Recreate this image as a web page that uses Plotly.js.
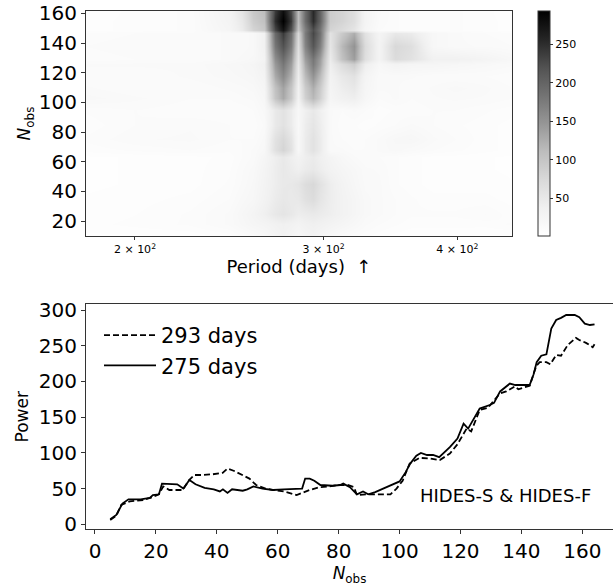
<!DOCTYPE html>
<html>
<head>
<meta charset="utf-8">
<script src="https://cdn.plot.ly/plotly-3.0.1.min.js"></script>
<style>
  html, body { margin: 0; padding: 0; background: #ffffff; overflow: hidden; }
  #chart { width: 613px; height: 588px; }
</style>
</head>
<body>
<div id="chart"></div>
<script>
// ---------- Heatmap (top panel) ----------
const periods = [180, 200, 225, 245, 252, 258, 264, 270, 275, 280, 284, 288, 293, 298, 304, 312, 320, 328, 338, 350, 362, 380, 398, 425, 450];
const nobsRows = [10, 18, 25, 35, 45, 55, 63, 68, 75, 85, 95, 103, 110, 118, 126, 129, 138, 147, 149, 155, 161];
const powerGrid = [
  [4, 4, 5, 8, 12, 15, 20, 28, 35, 28, 22, 28, 32, 26, 20, 15, 12, 10, 8, 6, 5, 5, 5, 4, 4],            // 10
  [6, 8, 10, 15, 20, 25, 28, 34, 37, 34, 30, 35, 38, 35, 30, 25, 20, 15, 12, 10, 8, 8, 8, 8, 10],       // 18
  [5, 7, 10, 15, 22, 28, 38, 50, 56, 50, 42, 45, 48, 45, 40, 32, 25, 18, 15, 12, 10, 10, 10, 12, 8],    // 25
  [5, 6, 8, 12, 18, 22, 32, 45, 51, 48, 50, 62, 69, 55, 42, 32, 25, 18, 15, 12, 10, 8, 8, 8, 6],        // 35
  [4, 5, 6, 10, 15, 20, 30, 42, 49, 50, 55, 68, 75, 60, 42, 30, 22, 16, 15, 10, 8, 6, 6, 6, 5],         // 45
  [4, 5, 6, 9, 14, 18, 28, 42, 50, 44, 38, 45, 50, 42, 32, 25, 20, 15, 14, 10, 8, 6, 6, 5, 4],          // 55
  [4, 5, 6, 8, 12, 15, 25, 40, 49, 40, 32, 40, 46, 38, 28, 20, 15, 12, 12, 10, 8, 6, 6, 5, 4],          // 63
  [8, 10, 12, 10, 12, 15, 20, 62, 80, 60, 20, 45, 60, 45, 15, 15, 12, 12, 15, 18, 15, 12, 10, 8, 6],    // 68
  [10, 14, 15, 12, 12, 12, 18, 60, 75, 56, 20, 45, 60, 45, 15, 12, 10, 12, 15, 20, 22, 15, 12, 8, 6],   // 75
  [8, 12, 14, 12, 10, 10, 15, 48, 60, 45, 18, 42, 55, 42, 15, 10, 10, 8, 10, 12, 15, 12, 10, 8, 6],     // 85
  [10, 12, 10, 10, 10, 12, 18, 48, 60, 45, 20, 38, 50, 38, 15, 12, 15, 12, 8, 10, 10, 12, 12, 10, 8],   // 95
  [18, 15, 12, 12, 14, 15, 22, 100, 130, 95, 32, 85, 115, 85, 25, 35, 40, 22, 12, 15, 12, 14, 15, 14, 12],     // 103
  [15, 12, 12, 15, 16, 18, 25, 105, 135, 100, 35, 92, 125, 92, 28, 42, 50, 25, 15, 15, 12, 15, 18, 15, 12],    // 110
  [12, 12, 15, 18, 20, 22, 30, 128, 160, 122, 42, 112, 150, 112, 32, 50, 60, 28, 15, 15, 15, 12, 12, 12, 10],  // 118
  [15, 15, 15, 20, 22, 25, 35, 145, 180, 140, 50, 130, 175, 135, 40, 70, 90, 40, 20, 30, 25, 25, 22, 18, 15],  // 126
  [10, 12, 12, 15, 18, 20, 30, 155, 190, 150, 55, 140, 180, 140, 45, 105, 140, 65, 30, 70, 60, 35, 35, 28, 20], // 129
  [12, 14, 12, 15, 15, 18, 35, 180, 220, 175, 65, 165, 215, 170, 55, 115, 150, 70, 30, 75, 65, 20, 15, 14, 12], // 138
  [10, 12, 12, 15, 15, 18, 35, 195, 240, 190, 75, 175, 230, 185, 60, 95, 125, 60, 28, 50, 45, 20, 15, 12, 10],  // 147
  [6, 8, 10, 25, 45, 80, 95, 230, 274, 220, 100, 170, 224, 180, 80, 70, 55, 25, 12, 10, 8, 8, 10, 8, 6],        // 149
  [6, 8, 10, 28, 50, 90, 105, 250, 293, 240, 110, 190, 251, 200, 90, 80, 65, 28, 14, 10, 8, 8, 10, 8, 6],       // 155
  [5, 8, 10, 30, 55, 95, 110, 240, 281, 230, 110, 190, 254, 200, 90, 80, 65, 28, 15, 10, 8, 8, 10, 8, 5]        // 161
];
const periodTickVals = [200, 300, 400];
const periodTickText = ['2 × 10<sup>2</sup>', '3 × 10<sup>2</sup>', '4 × 10<sup>2</sup>'];
const colorbarTicks = [50, 100, 150, 200, 250];

// ---------- Lines (bottom panel) ----------
const nobs293 = [5, 7, 8.6, 11.4, 15.8, 18.9, 21, 22.4, 24.4, 28.8, 30.9, 32.6, 35, 38.6, 41.9, 43.5, 45.5, 47.5, 50.7, 52.9,
  56, 58.5, 62, 66.2, 68, 70.5, 73.8, 77, 80, 83, 85, 86, 89, 93, 97, 99, 101, 103.3, 106.6, 110,
  113.2, 116.5, 119, 122, 123.5, 126.3, 129, 132.9, 135, 137.8, 139, 142.7, 144.9, 146, 148.2, 149.5, 151.4, 153, 155.2, 157.9,
  159, 161.2, 163.4, 164];
const power293 = [6, 12, 27, 32, 34, 38, 42, 53, 48, 48, 62, 69, 69, 70, 72, 78, 75, 71, 64, 55,
  50, 48, 46, 41, 44, 48, 52, 53, 55, 55, 52, 41, 42, 42, 42, 50, 61, 85, 93, 92,
  90, 99, 112, 134, 130, 160, 163, 183, 186, 193, 189, 194, 222, 227, 227, 224, 237, 236, 251, 261,
  258, 254, 248, 252];
const nobs275 = [5, 7, 9, 11, 15, 18, 19, 21, 22, 25, 27, 29, 31, 33, 36, 39, 41, 42, 43.5, 45,
  48.5, 50, 52, 55, 58.5, 62, 66.7, 68, 69, 70.5, 72, 74, 78, 80.5, 81.5, 83.7, 86, 88, 89.7, 92,
  94.6, 97, 99, 100, 102, 103.5, 105.5, 107, 109, 111, 113, 116.5, 119, 121, 122.5, 124, 126.3, 129.6, 131, 133,
  136.2, 138, 140, 142.7, 144, 145, 146.5, 148.2, 149.8, 151.4, 153, 154.7, 157.5, 159, 160.8, 162.5, 164];
const power275 = [7, 13, 29, 35, 35, 37, 41, 42, 57, 56, 56, 50, 62, 56, 51, 49, 46, 49, 44, 49,
  47, 49, 53, 50, 48, 49, 49, 50, 64, 64, 61, 55, 54, 55, 57, 52, 42, 46, 42, 45,
  50, 54, 58, 60, 73, 85, 96, 100, 97, 97, 94, 108, 120, 141, 134, 145, 162, 167, 170, 186,
  197, 195, 195, 195, 210, 227, 236, 238, 274, 286, 289, 293, 293, 290, 281, 279, 280];
const seriesNames = ['293 days', '275 days'];

const W = 613, H = 588;
const FONT = 'DejaVu Sans, Liberation Sans, sans-serif';
const AX = '#333333';

const greys = [
  [0, '#ffffff'], [0.125, '#f0f0f0'], [0.25, '#d9d9d9'], [0.375, '#bdbdbd'],
  [0.5, '#969696'], [0.625, '#737373'], [0.75, '#525252'], [0.875, '#252525'], [1, '#000000']
];

const traces = [
  {
    type: 'heatmap', x: periods, y: nobsRows, z: powerGrid,
    xaxis: 'x', yaxis: 'y', zsmooth: 'best', zmin: 1, zmax: 293,
    colorscale: greys, showlegend: false, hoverinfo: 'skip',
    colorbar: {
      x: 538 / W, xanchor: 'left', y: 1 - 11 / H, yanchor: 'top',
      len: 225, lenmode: 'pixels', thickness: 12, thicknessmode: 'pixels',
      xpad: 0, ypad: 0, outlinewidth: 1, outlinecolor: AX,
      tickvals: colorbarTicks, ticks: 'outside', ticklen: 3, tickcolor: AX,
      tickfont: { family: FONT, size: 11, color: '#000' }
    }
  },
  {
    type: 'scatter', mode: 'lines', name: seriesNames[0], x: nobs293, y: power293,
    xaxis: 'x2', yaxis: 'y2', line: { color: '#000', width: 1.8, dash: '6px,3px' }
  },
  {
    type: 'scatter', mode: 'lines', name: seriesNames[1], x: nobs275, y: power275,
    xaxis: 'x2', yaxis: 'y2', line: { color: '#000', width: 1.8 }
  }
];

const axBase = {
  showgrid: false, zeroline: false, showline: true, linecolor: AX, linewidth: 1,
  ticks: 'outside', ticklen: 4, tickcolor: AX, automargin: false,
  tickfont: { family: FONT, size: 20, color: '#000' }
};

const layout = {
  width: W, height: H,
  margin: { l: 0, r: 0, t: 0, b: 0 },
  paper_bgcolor: '#ffffff', plot_bgcolor: '#ffffff',
  font: { family: FONT, color: '#000' },
  xaxis: Object.assign({}, axBase, {
    domain: [86 / W, 512 / W], anchor: 'y', type: 'log',
    range: [Math.log10(180), Math.log10(450)], mirror: true,
    tickvals: periodTickVals, ticktext: periodTickText, ticklen: 3,
    tickfont: { family: FONT, size: 11, color: '#000' },
    title: { text: 'Period (days)\u00a0\u00a0↑', font: { family: FONT, size: 18, color: '#000' }, standoff: 5 }
  }),
  yaxis: Object.assign({}, axBase, {
    domain: [1 - 236 / H, 1 - 11 / H], anchor: 'x',
    range: [9.9, 161.6], mirror: true, tickvals: [20, 40, 60, 80, 100, 120, 140, 160],
    title: { text: '<i>N</i><sub>obs</sub>', font: { family: FONT, size: 17, color: '#000' }, standoff: 3 }
  }),
  xaxis2: Object.assign({}, axBase, {
    domain: [86 / W, 1], anchor: 'y2',
    range: [-2.95, 170.06], mirror: true, tickvals: [0, 20, 40, 60, 80, 100, 120, 140, 160],
    title: { text: '<i>N</i><sub>obs</sub>', font: { family: FONT, size: 17, color: '#000' }, standoff: 2 }
  }),
  yaxis2: Object.assign({}, axBase, {
    domain: [1 - 529.3 / H, 1 - 304.3 / H], anchor: 'x2',
    range: [-7, 308], mirror: false, tickvals: [0, 50, 100, 150, 200, 250, 300],
    title: { text: 'Power', font: { family: FONT, size: 17, color: '#000' }, standoff: 5 }
  }),
  showlegend: true,
  legend: {
    x: 99 / W, xanchor: 'left', y: 1 - 315 / H, yanchor: 'top',
    bgcolor: 'rgba(0,0,0,0)', borderwidth: 0, itemwidth: 52,
    font: { family: FONT, size: 21, color: '#000' }, tracegroupgap: 0
  },
  annotations: [{
    text: 'HIDES-S & HIDES-F', xref: 'paper', yref: 'paper',
    x: 505.5 / W, y: 1 - 495 / H, xanchor: 'center', yanchor: 'middle',
    showarrow: false, font: { family: FONT, size: 18, color: '#000' }
  }]
};

Plotly.newPlot('chart', traces, layout, { displayModeBar: false, staticPlot: true });
</script>
</body>
</html>
